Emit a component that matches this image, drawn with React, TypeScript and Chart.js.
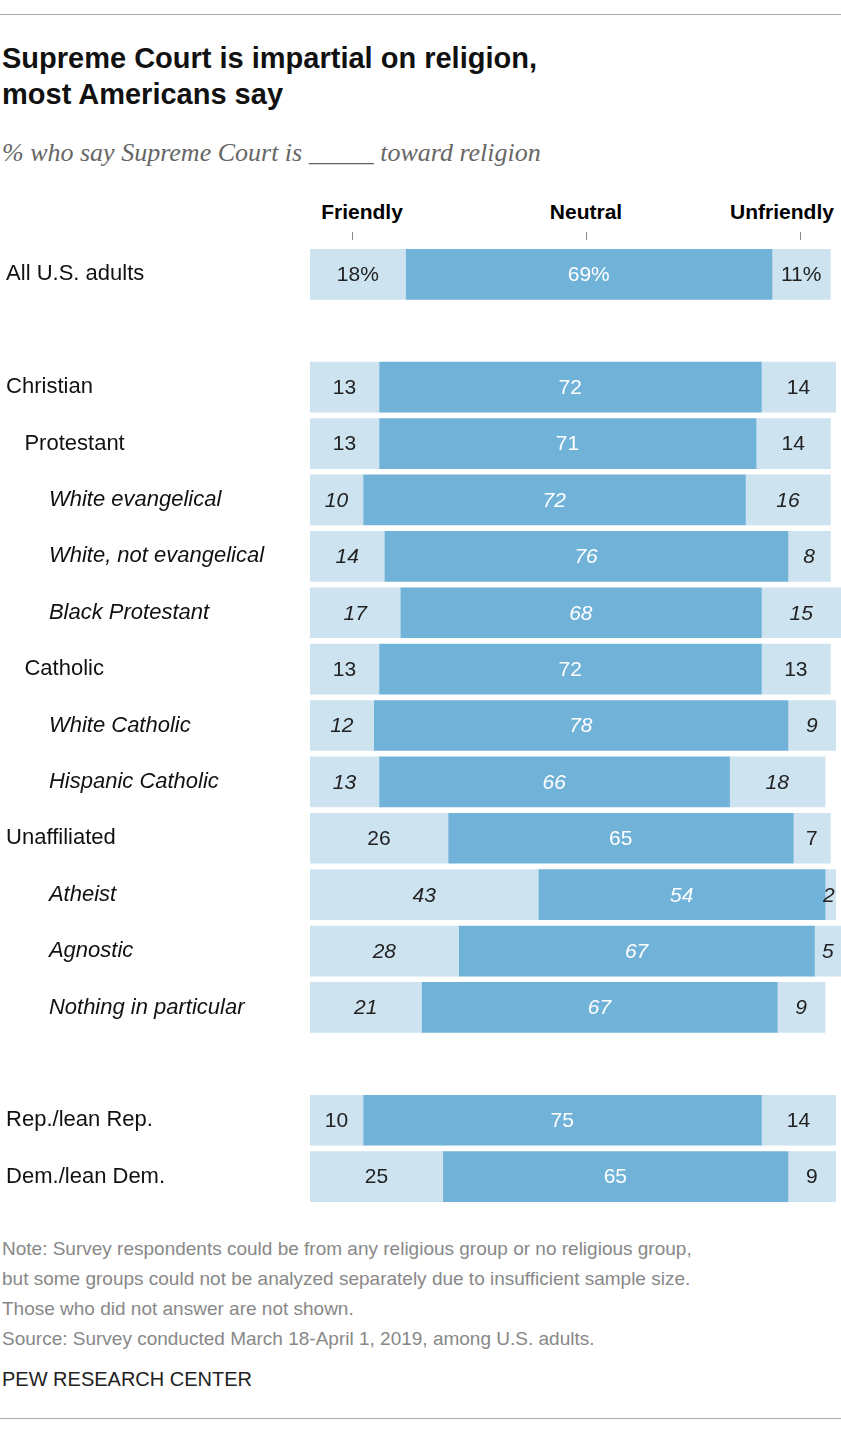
import { useEffect, useRef } from 'react';
import Chart from 'chart.js/auto';

const groups = [
  ' All U.S. adults', '',
  ' Christian', '    Protestant', '        White evangelical', '        White, not evangelical', '        Black Protestant',
  '    Catholic', '        White Catholic', '        Hispanic Catholic',
  ' Unaffiliated', '        Atheist', '        Agnostic', '        Nothing in particular', '',
  ' Rep./lean Rep.', ' Dem./lean Dem.',
];
const italicRows = [4, 5, 6, 8, 9, 11, 12, 13];
const friendly = [18, null, 13, 13, 10, 14, 17, 13, 12, 13, 26, 43, 28, 21, null, 10, 25];
const neutral = [69, null, 72, 71, 72, 76, 68, 72, 78, 66, 65, 54, 67, 67, null, 75, 65];
const unfriendly = [11, null, 14, 14, 16, 8, 15, 13, 9, 18, 7, 2, 5, 9, null, 14, 9];

const font = '"Liberation Sans", Arial, sans-serif';

const valueLabels = {
  id: 'valueLabels',
  afterDatasetsDraw(chart: Chart) {
    const ctx = chart.ctx;
    ctx.save();
    ctx.textBaseline = 'middle';
    chart.data.datasets.forEach((ds, di) => {
      chart.getDatasetMeta(di).data.forEach((bar: any, i) => {
        const v = ds.data[i] as number | null;
        if (v == null) return;
        const it = italicRows.includes(i);
        ctx.font = `${it ? 'italic ' : ''}21px ${font}`;
        ctx.fillStyle = di === 1 ? '#ffffff' : '#222222';
        const txt = i === 0 ? `${v}%` : `${v}`;
        if (v < 4) {
          ctx.textAlign = 'left';
          ctx.fillText(txt, bar.base - 2, bar.y + 1);
        } else {
          ctx.textAlign = 'center';
          ctx.fillText(txt, (bar.base + bar.x) / 2, bar.y + 1);
        }
      });
    });
    ctx.restore();
  },
};

function BarChart() {
  const canvasRef = useRef<HTMLCanvasElement>(null);
  useEffect(() => {
    const canvas = canvasRef.current;
    if (!canvas) return;
    const chart = new Chart(canvas, {
      type: 'bar',
      data: {
        labels: groups,
        datasets: [
          { label: 'Friendly', data: friendly, backgroundColor: '#cde3f0' },
          { label: 'Neutral', data: neutral, backgroundColor: '#70b2d8' },
          { label: 'Unfriendly', data: unfriendly, backgroundColor: '#cde3f0' },
        ],
      },
      options: {
        indexAxis: 'y',
        animation: false,
        responsive: true,
        maintainAspectRatio: false,
        layout: { padding: 0 },
        datasets: { bar: { barThickness: 50, borderWidth: 0 } },
        plugins: { legend: { display: false }, tooltip: { enabled: false } },
        scales: {
          x: { stacked: true, min: 0, max: 100, display: false },
          y: {
            stacked: true,
            grid: { display: false },
            border: { display: false },
            afterFit: (s: any) => { s.width = 310; },
            ticks: {
              crossAlign: 'far',
              padding: 0,
              color: '#111',
              font: (c: any) => ({ family: font, size: 22, style: italicRows.includes(c.index) ? 'italic' : 'normal' }),
            },
          },
        },
      },
      plugins: [valueLabels],
    });
    return () => chart.destroy();
  }, []);
  return <canvas ref={canvasRef} />;
}

export default function App() {
  const head: React.CSSProperties = { position: 'absolute', top: 200, fontFamily: font, fontWeight: 'bold', fontSize: 21, transform: 'translateX(-50%)' };
  const tick: React.CSSProperties = { position: 'absolute', top: 232, width: 1, height: 8, background: '#888' };
  return (
    <div style={{ position: 'absolute', left: 0, top: 0, width: 841, height: 1443, background: '#fff', fontFamily: font }}>
      <div style={{ position: 'absolute', left: 0, top: 14, width: 841, borderTop: '1px solid #aaa' }} />
      <div style={{ position: 'absolute', left: 2, top: 40, fontSize: 29, fontWeight: 'bold', lineHeight: '36px', color: '#111' }}>
        Supreme Court is impartial on religion,<br />most Americans say
      </div>
      <div style={{ position: 'absolute', left: 2, top: 138, fontSize: 26, fontStyle: 'italic', fontFamily: '"Liberation Serif", serif', color: '#666' }}>
        % who say Supreme Court is _____ toward religion
      </div>
      <div style={{ ...head, left: 362 }}>Friendly</div>
      <div style={{ ...head, left: 586 }}>Neutral</div>
      <div style={{ ...head, left: 782 }}>Unfriendly</div>
      <div style={{ ...tick, left: 352 }} />
      <div style={{ ...tick, left: 586 }} />
      <div style={{ ...tick, left: 800 }} />
      <div style={{ position: 'absolute', left: 0, top: 233, width: 841, height: 985 }}>
        <BarChart />
      </div>
      <div style={{ position: 'absolute', left: 2, top: 1234, fontSize: 19, lineHeight: '30px', color: '#888' }}>
        Note: Survey respondents could be from any religious group or no religious group,<br />
        but some groups could not be analyzed separately due to insufficient sample size.<br />
        Those who did not answer are not shown.<br />
        Source: Survey conducted March 18-April 1, 2019, among U.S. adults.
      </div>
      <div style={{ position: 'absolute', left: 2, top: 1368, fontSize: 20, color: '#222' }}>PEW RESEARCH CENTER</div>
      <div style={{ position: 'absolute', left: 0, top: 1418, width: 841, borderTop: '1px solid #aaa' }} />
    </div>
  );
}
